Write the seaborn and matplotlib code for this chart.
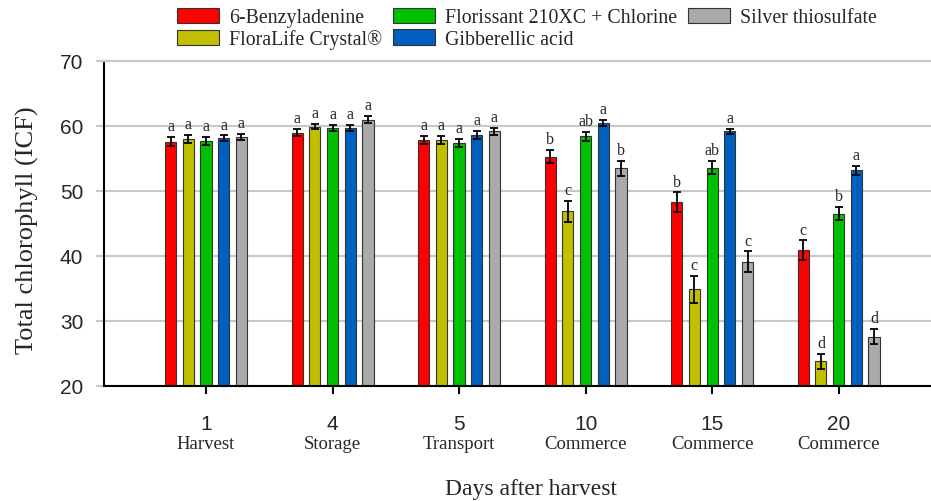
import pandas as pd
import matplotlib.pyplot as plt
import seaborn as sns
from matplotlib.patches import Patch

# Data
days = ['1', '4', '5', '10', '15', '20']
stages = ['Harvest', 'Storage', 'Transport', 'Commerce', 'Commerce', 'Commerce']
treatments = ['6-Benzyladenine', 'FloraLife Crystal®', 'Florissant 210XC + Chlorine',
              'Gibberellic acid', 'Silver thiosulfate']
colors = ['#ff0000', '#c0c000', '#00c000', '#0060c0', '#aaaaaa']

ba = [57.6, 59.0, 57.9, 55.3, 48.3, 40.9]
flora = [58.0, 59.9, 57.9, 46.9, 34.9, 23.8]
floris = [57.7, 59.7, 57.4, 58.4, 53.6, 46.5]
ga = [58.1, 59.7, 58.6, 60.5, 59.2, 53.2]
sts = [58.3, 61.0, 59.2, 53.5, 39.1, 27.6]

ba_err = [0.7, 0.55, 0.6, 1.0, 1.5, 1.5]
flora_err = [0.65, 0.4, 0.6, 1.6, 2.1, 1.15]
floris_err = [0.6, 0.5, 0.6, 0.65, 1.0, 1.0]
ga_err = [0.45, 0.5, 0.65, 0.5, 0.4, 0.7]
sts_err = [0.5, 0.6, 0.55, 1.15, 1.6, 1.2]

ba_let = ['a', 'a', 'a', 'b', 'b', 'c']
flora_let = ['a', 'a', 'a', 'c', 'c', 'd']
floris_let = ['a', 'a', 'a', 'ab', 'ab', 'b']
ga_let = ['a', 'a', 'a', 'a', 'a', 'a']
sts_let = ['a', 'a', 'a', 'b', 'c', 'd']

means = [ba, flora, floris, ga, sts]
errs = [ba_err, flora_err, floris_err, ga_err, sts_err]
letters = [ba_let, flora_let, floris_let, ga_let, sts_let]

rows = []
for t, m in zip(treatments, means):
    for d, v in zip(days, m):
        rows.append({'Day': d, 'Treatment': t, 'Chl': v})
df = pd.DataFrame(rows)

sns.set_style('white')
plt.rcParams['font.family'] = ['Liberation Sans', 'DejaVu Sans']
serif = ['Liberation Serif', 'DejaVu Serif']

fig = plt.figure(figsize=(9.31, 5.02), dpi=100)
ax = fig.add_axes([104 / 931, 1 - 387 / 502, 1 - 104 / 931, (387 - 62) / 502])

sns.barplot(data=df, x='Day', y='Chl', hue='Treatment', order=days,
            hue_order=treatments, palette=colors, saturation=1, width=0.7, gap=0.37,
            edgecolor='#333333', linewidth=0.8, errorbar=None, legend=False, ax=ax)

# Error bars and significance letters on top of each bar
for cont, e, lets in zip(ax.containers, errs, letters):
    xs = [p.get_x() + p.get_width() / 2 for p in cont.patches]
    ys = [p.get_height() for p in cont.patches]
    ax.errorbar(xs, ys, yerr=e, fmt='none', ecolor='black', elinewidth=1.3,
                capsize=3, capthick=1.3, zorder=5)
    for x, y, err, l in zip(xs, ys, e, lets):
        ax.annotate(l, (x, y + err), xytext=(0, 2), textcoords='offset points',
                    ha='center', va='bottom', fontsize=11.5, family=serif)

ax.set_ylim(20, 70)
ax.set_xlim(-0.806, 5.73)
ax.set_yticks([20, 30, 40, 50, 60, 70])
ax.yaxis.grid(True, color='#c8c8c8', lw=1.5)
ax.set_axisbelow(True)

ax.spines['right'].set_visible(False)
ax.spines['top'].set_color('#c8c8c8')
ax.spines['top'].set_linewidth(1.5)
for s in ['left', 'bottom']:
    ax.spines[s].set_color('black')
    ax.spines[s].set_linewidth(1.5)

ax.tick_params(axis='y', left=True, length=6, width=1.5, color='#c8c8c8',
               labelsize=15, pad=9)
ax.tick_params(axis='x', bottom=True, length=6, width=1.5, color='black',
               labelsize=15, pad=14)

# Stage names under the day numbers
for i, st in enumerate(stages):
    ax.text(i, -0.178, st, transform=ax.get_xaxis_transform(), ha='center',
            va='center', fontsize=13.5, family=serif)

ax.set_xlabel('Days after harvest', fontsize=17, family=serif)
ax.xaxis.set_label_coords(0.516, -0.315)
ax.xaxis.label.set_va('center')
ax.set_ylabel('Total chlorophyll (ICF)', fontsize=19, family=serif)
ax.yaxis.set_label_coords(-0.092, 0.483)
ax.yaxis.label.set_va('center')

handles = [Patch(facecolor=c, edgecolor='#333333', linewidth=0.8) for c in colors]
fig.legend(handles, treatments, loc='upper center', bbox_to_anchor=(527 / 931, 1.008),
           ncol=3, frameon=False, prop={'family': serif, 'size': 14.3},
           handlelength=2.1, handleheight=0.8, handletextpad=0.5,
           columnspacing=0.55, labelspacing=0.1, borderpad=0.15)

plt.savefig('out.png', dpi=100)
